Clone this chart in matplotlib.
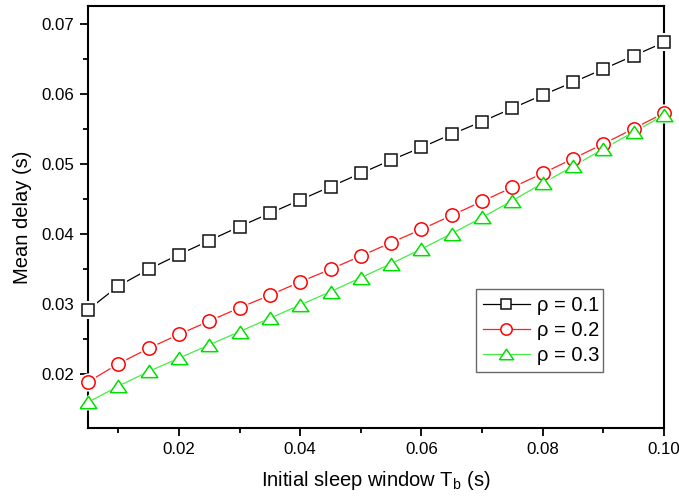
import matplotlib
matplotlib.use("Agg")
import matplotlib.pyplot as plt
from matplotlib.ticker import MultipleLocator, FormatStrFormatter
from matplotlib.lines import Line2D

plt.rcParams['font.family'] = ['Liberation Sans', 'DejaVu Sans']
plt.rcParams['mathtext.fontset'] = 'custom'
plt.rcParams['mathtext.rm'] = 'Liberation Sans'
plt.rcParams['mathtext.it'] = 'Liberation Sans'

tb = [0.005, 0.010, 0.015, 0.020, 0.025, 0.030, 0.035, 0.040, 0.045, 0.050,
      0.055, 0.060, 0.065, 0.070, 0.075, 0.080, 0.085, 0.090, 0.095, 0.100]
delay_rho01 = [0.0292, 0.0326, 0.0350, 0.0371, 0.0391, 0.0411, 0.0430, 0.0449, 0.0468, 0.0487,
               0.0506, 0.0524, 0.0543, 0.0561, 0.0580, 0.0599, 0.0617, 0.0636, 0.0655, 0.0674]
delay_rho02 = [0.0189, 0.0215, 0.0237, 0.0257, 0.0276, 0.0295, 0.0313, 0.0332, 0.0350, 0.0369,
               0.0388, 0.0407, 0.0427, 0.0447, 0.0467, 0.0487, 0.0508, 0.0529, 0.0551, 0.0573]
delay_rho03 = [0.0160, 0.0183, 0.0204, 0.0223, 0.0242, 0.0261, 0.0280, 0.0299, 0.0318, 0.0338,
               0.0358, 0.0379, 0.0401, 0.0424, 0.0448, 0.0473, 0.0497, 0.0522, 0.0546, 0.0570]
labels = ['ρ = 0.1', 'ρ = 0.2', 'ρ = 0.3']

tri = [(-1, -0.74), (1, -0.74), (0, 0.74), (-1, -0.74)]
styles = [
    dict(lc='black', mc='#111111', marker='s', ms=9),
    dict(lc='#ff2020', mc='#ff0000', marker='o', ms=9.6),
    dict(lc='#44ee44', mc='#00e000', marker=tri, ms=12),
]
series = [delay_rho01, delay_rho02, delay_rho03]

fig = plt.figure(figsize=(6.79, 4.98), dpi=100)
ax = fig.add_axes([88/679, 1-427.7/498, 576/679, 421.7/498])

handles = []
for y, st, lab in zip(series, styles, labels):
    ax.plot(tb, y, color=st['lc'], lw=0.9, zorder=2, clip_on=False)
for y, st in zip(series, styles):
    ax.plot(tb, y, ls='none', marker=st['marker'], ms=st['ms'] + 3.5, mfc='white',
            mec='white', mew=0, zorder=3, clip_on=False)
for y, st, lab in zip(series, styles, labels):
    ax.plot(tb, y, ls='none', marker=st['marker'], ms=st['ms'], mfc='white',
            mec=st['mc'], mew=1.1, zorder=4, clip_on=False)
    handles.append(Line2D([], [], color=st['lc'], lw=0.9, marker=st['marker'],
                          ms=st['ms'] * 0.85, mfc='white', mec=st['mc'], mew=1.1, label=lab))

ax.set_xlim(0.005, 0.1)
ax.set_ylim(0.01237, 0.0726)
ax.xaxis.set_major_locator(MultipleLocator(0.02))
ax.xaxis.set_minor_locator(MultipleLocator(0.01))
ax.yaxis.set_major_locator(MultipleLocator(0.01))
ax.yaxis.set_minor_locator(MultipleLocator(0.005))
ax.xaxis.set_major_formatter(FormatStrFormatter('%.2f'))
ax.yaxis.set_major_formatter(FormatStrFormatter('%.2f'))
ax.tick_params(which='major', direction='out', length=6, width=1.3, labelsize=12.2, pad=4)
ax.tick_params(which='minor', direction='out', length=3.5, width=1.3)
for s in ax.spines.values():
    s.set_linewidth(1.5)

ax.set_xlabel('Initial sleep window T$_\\mathregular{b}$ (s)', fontsize=14.5, labelpad=9)
ax.set_ylabel('Mean delay (s)', fontsize=14.5, labelpad=7)

leg = ax.legend(handles=handles, loc='lower left', bbox_to_anchor=(0.674, 0.132, 0.22, 0.197),
                mode='expand', fontsize=14.5, frameon=True, fancybox=False,
                edgecolor='#444444', handlelength=2.3, handletextpad=0.35,
                borderpad=0.35, labelspacing=0.3, borderaxespad=0)
leg.get_frame().set_linewidth(1.0)

fig.savefig('out.png', dpi=100)
